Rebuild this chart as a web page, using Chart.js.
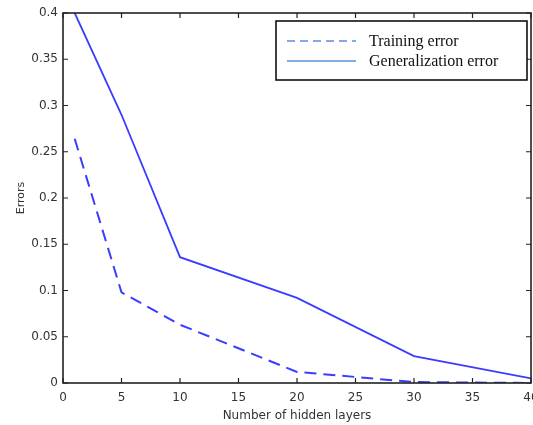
<!DOCTYPE html>
<html>
<head>
<meta charset="utf-8">
<script src="https://cdn.jsdelivr.net/npm/chart.js@4"></script>
<style>
  html, body { margin: 0; padding: 0; background: #fff; }
  #wrap { width: 533px; height: 425px; }
</style>
</head>
<body>
<div id="wrap"><canvas id="errChart" width="533" height="425"></canvas></div>
<script>
// data
const hiddenLayers = [1, 5, 10, 20, 30, 40];
const trainingError = [0.264, 0.098, 0.063, 0.012, 0.001, 0.0];
const generalizationError = [0.4, 0.29, 0.136, 0.092, 0.029, 0.005];
const xTicks = [0, 5, 10, 15, 20, 25, 30, 35, 40];
const yTicks = [0, 0.05, 0.1, 0.15, 0.2, 0.25, 0.3, 0.35, 0.4];
const legendLabels = ['Training error', 'Generalization error'];

const toPoints = ys => hiddenLayers.map((x, i) => ({ x: x, y: ys[i] }));

// frame with inward ticks, like the matlab figure
const frame = {
  id: 'frame',
  afterDraw(chart) {
    const { ctx, chartArea: a, scales } = chart;
    ctx.save();
    ctx.strokeStyle = '#222';
    ctx.lineWidth = 1.6;
    ctx.strokeRect(a.left, a.top, a.right - a.left, a.bottom - a.top);
    ctx.lineWidth = 1.2;
    xTicks.forEach(v => {
      const px = scales.x.getPixelForValue(v);
      ctx.beginPath();
      ctx.moveTo(px, a.bottom); ctx.lineTo(px, a.bottom - 5);
      ctx.moveTo(px, a.top); ctx.lineTo(px, a.top + 5);
      ctx.stroke();
    });
    yTicks.forEach(v => {
      const py = scales.y.getPixelForValue(v);
      ctx.beginPath();
      ctx.moveTo(a.left, py); ctx.lineTo(a.left + 5, py);
      ctx.moveTo(a.right, py); ctx.lineTo(a.right - 5, py);
      ctx.stroke();
    });
    ctx.restore();
  }
};

// boxed legend in the top right corner
const boxLegend = {
  id: 'boxLegend',
  afterDraw(chart) {
    const { ctx } = chart;
    const bx = 276, by = 21, bw = 251, bh = 59;
    ctx.save();
    ctx.fillStyle = '#fff';
    ctx.fillRect(bx, by, bw, bh);
    ctx.strokeStyle = '#000';
    ctx.lineWidth = 1.5;
    ctx.strokeRect(bx, by, bw, bh);
    ctx.strokeStyle = '#5b8ee0';
    ctx.lineWidth = 1.5;
    [[8, 5], []].forEach((dash, i) => {
      const y = by + 20 + i * 20;
      ctx.setLineDash(dash);
      ctx.beginPath();
      ctx.moveTo(bx + 11, y); ctx.lineTo(bx + 80, y);
      ctx.stroke();
    });
    ctx.setLineDash([]);
    ctx.fillStyle = '#111';
    ctx.font = '16px "Liberation Serif", serif';
    ctx.textBaseline = 'middle';
    legendLabels.forEach((t, i) => ctx.fillText(t, bx + 93, by + 21 + i * 20));
    ctx.restore();
  }
};

let chart = new Chart(document.getElementById('errChart').getContext('2d'), {
  type: 'scatter',
  data: {
    datasets: [
      {
        label: legendLabels[0],
        data: toPoints(trainingError),
        showLine: true,
        borderColor: '#3a3cff',
        borderWidth: 2,
        borderDash: [12, 7],
        pointRadius: 0,
        tension: 0
      },
      {
        label: legendLabels[1],
        data: toPoints(generalizationError),
        showLine: true,
        borderColor: '#3a3cff',
        borderWidth: 1.8,
        pointRadius: 0,
        tension: 0
      }
    ]
  },
  options: {
    responsive: false,
    animation: false,
    layout: { padding: { left: 0, top: 13, right: 2, bottom: 0 } },
    plugins: { legend: { display: false }, tooltip: { enabled: false } },
    scales: {
      x: {
        type: 'linear',
        min: 0, max: 40,
        afterBuildTicks: s => { s.ticks = xTicks.map(v => ({ value: v })); },
        afterFit: s => { s.height = 42; s.paddingLeft = 0; s.paddingRight = 0; },
        grid: { display: false, drawTicks: false },
        border: { display: false },
        ticks: { padding: 8, color: '#333', font: { family: 'DejaVu Sans', size: 12 }, maxRotation: 0 },
        title: {
          display: true,
          text: 'Number of hidden layers',
          color: '#333',
          font: { family: 'DejaVu Sans', size: 12 },
          padding: { top: 0, bottom: 2 }
        }
      },
      y: {
        min: 0, max: 0.4,
        afterBuildTicks: s => { s.ticks = yTicks.map(v => ({ value: v })); },
        afterFit: s => { s.width = 63; s.paddingTop = 0; s.paddingBottom = 0; },
        grid: { display: false, drawTicks: false },
        border: { display: false },
        ticks: {
          padding: 5,
          color: '#333',
          font: { family: 'DejaVu Sans', size: 12 },
          callback: v => String(+v.toFixed(2))
        },
        title: {
          display: true,
          text: 'Errors',
          color: '#333',
          font: { family: 'DejaVu Sans', size: 11 },
          padding: { top: 15, bottom: 0 }
        }
      }
    }
  },
  plugins: [frame, boxLegend]
});
</script>
</body>
</html>
